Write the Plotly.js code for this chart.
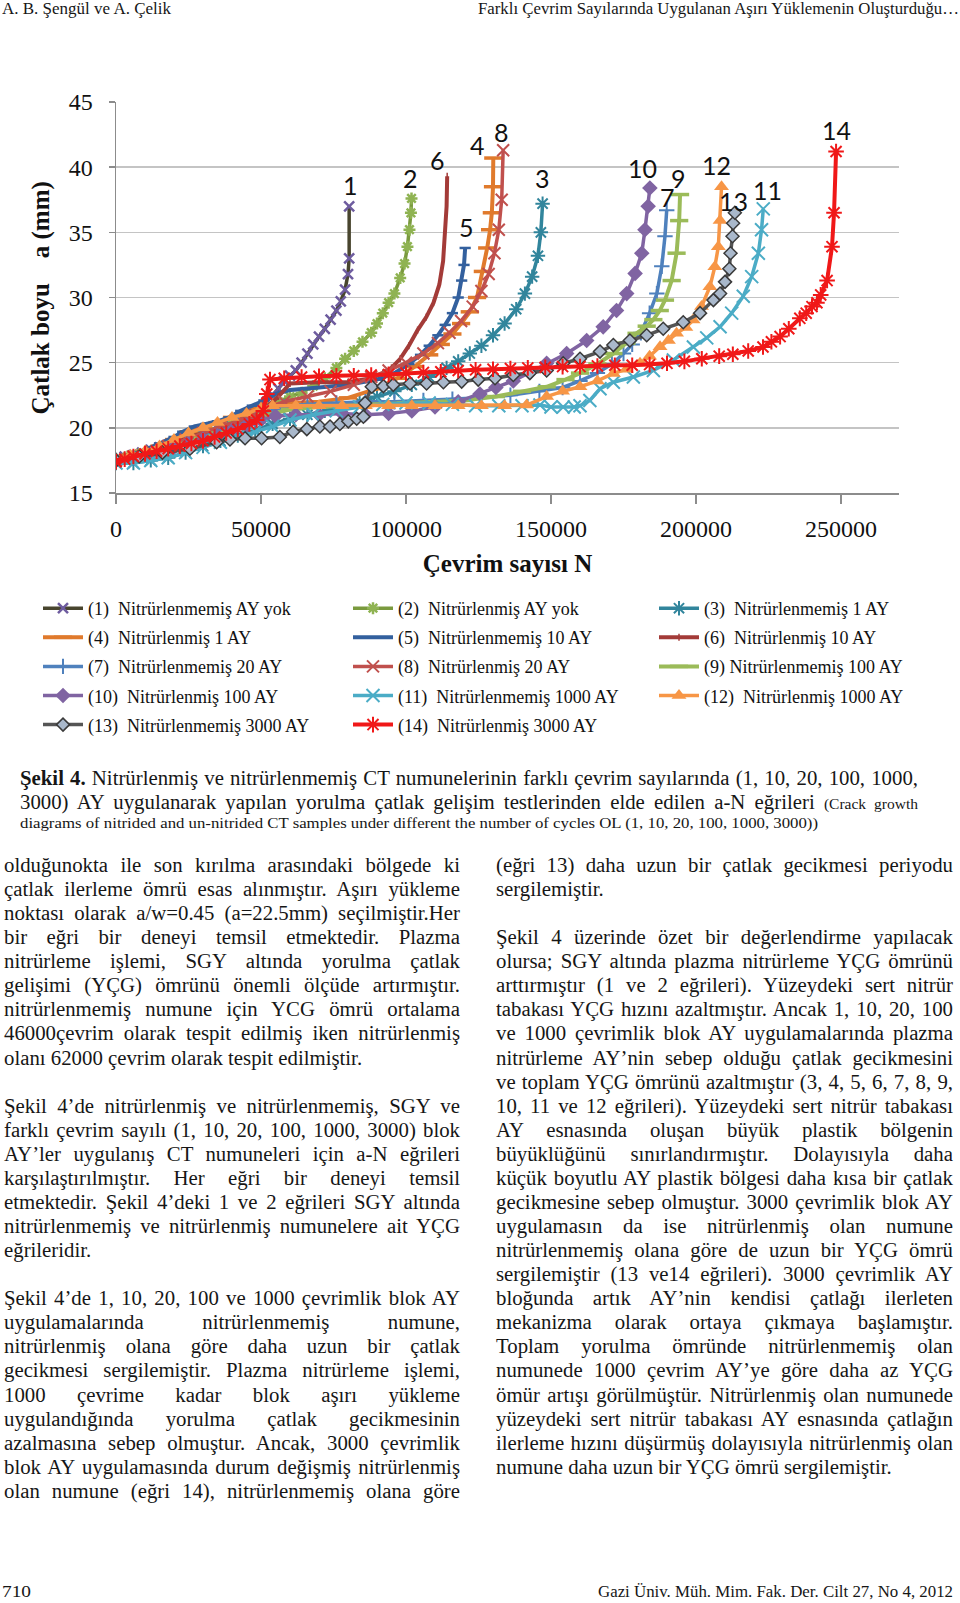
<!DOCTYPE html>
<html><head><meta charset="utf-8">
<script src="https://cdn.plot.ly/plotly-3.0.1.min.js"></script>
<style>
html,body{margin:0;padding:0;background:#fff;}
body{width:960px;height:1603px;position:relative;overflow:hidden;font-family:"Liberation Serif","Times New Roman",serif;color:#161616;}
.ln{position:absolute;white-space:nowrap;line-height:24px;height:24px;font-size:20.8px;}
.ln span.in{display:inline-block;transform-origin:0 50%;}
#chart{position:absolute;left:0;top:40px;width:960px;height:720px;}
</style></head><body>
<div id="chart"></div>
<script>
// ---------------- DATA ----------------
const seriesNames = [
 "(1)  Nitrürlenmemiş AY yok","(2)  Nitrürlenmiş AY yok","(3)  Nitrürlenmemiş 1 AY",
 "(4)  Nitrürlenmiş 1 AY","(5)  Nitrürlenmemiş 10 AY","(6)  Nitrürlenmiş 10 AY",
 "(7)  Nitrürlenmemiş 20 AY","(8)  Nitrürlenmiş 20 AY","(9) Nitrürlenmemiş 100 AY",
 "(10)  Nitrürlenmiş 100 AY","(11)  Nitrürlenmemiş 1000 AY","(12)  Nitrürlenmiş 1000 AY",
 "(13)  Nitrürlenmemiş 3000 AY","(14)  Nitrürlenmiş 3000 AY"];
const curveLabels = ["1","2","3","4","5","6","7","8","9","10","11","12","13","14"];
const labelN = [80700,101400,147200,124800,120700,111000,190000,133100,194100,181700,224500,207200,213100,248300];
const labelA = [38.6,39.2,39.2,41.7,35.4,40.55,37.7,42.7,39.2,39.9,38.25,40.2,37.4,42.85];
const xTickVals = [0,50000,100000,150000,200000,250000];
const xTickText = ["0","50000","100000","150000","200000","250000"];
const yTickVals = [15,20,25,30,35,40,45];

const n1 = [0,3000,6000,9000,12000,15000,18000,21000,24000,27000,30000,33000,36000,39000,42000,45000,48000,50000,52000,54000,56000,58000,60000,62000,64000,66000,68000,70000,72000,74000,76000,77500,79000,80000,80400,80400];
const a1 = [17.6,17.8,17.9,18.1,18.3,18.5,18.7,18.9,19.2,19.4,19.6,19.8,20.0,20.3,20.5,20.8,21.1,21.5,22.0,22.5,23.0,23.6,24.0,24.4,25.0,25.7,26.4,27.0,27.6,28.3,29.0,29.7,30.6,31.8,33.0,37.0];
const n2 = [0,4000,8000,12000,16000,20000,24000,28000,32000,36000,40000,44000,48000,52000,56000,60000,64000,68000,72000,76000,79000,82000,85000,88000,90000,92000,94000,96000,98000,99500,100500,101200,101700,101900];
const a2 = [17.6,17.8,18.0,18.2,18.5,18.8,19.1,19.4,19.7,20.0,20.3,20.6,21.0,21.5,22.0,22.4,22.7,23.2,23.8,24.6,25.3,25.9,26.6,27.3,28.0,28.8,29.6,30.3,31.5,32.6,33.9,35.2,36.5,37.6];
const n3 = [0,6000,12000,18000,24000,30000,36000,42000,48000,54000,60000,66000,72000,78000,84000,90000,96000,102000,108000,114000,118000,122000,126000,130000,134000,138000,141000,143500,145500,146500,147100];
const a3 = [17.3,17.3,17.5,17.7,18.1,18.6,19.0,19.4,19.8,20.3,20.7,21.0,21.3,21.6,22.0,22.4,22.8,23.3,23.9,24.6,25.1,25.7,26.3,27.1,28.0,29.1,30.3,31.6,33.2,35.0,37.2];
const n4 = [0,5000,10000,15000,20000,25000,30000,35000,40000,45000,50000,52000,60000,70000,80000,90000,97000,103000,108000,112000,116000,119000,122000,124500,126500,128000,129000,129600,130000,130100];
const a4 = [17.6,17.9,18.2,18.6,19.1,19.7,20.1,20.4,20.8,21.2,21.6,21.8,21.9,22.0,22.3,23.0,23.8,24.7,25.6,26.4,27.2,28.0,28.9,30.0,32.0,33.8,35.2,36.5,38.5,40.7];
const n5 = [0,5000,10000,15000,20000,23000,27000,31000,35000,39000,43000,47000,51000,55000,60000,70000,80000,90000,96000,101000,105000,108000,111000,113500,116000,118000,119200,120000,120400];
const a5 = [17.6,17.9,18.3,18.8,19.3,19.7,20.1,20.3,20.5,20.8,21.3,21.7,22.1,22.6,22.9,23.1,23.3,23.7,24.2,24.9,25.6,26.3,27.1,27.9,28.8,30.0,31.3,32.5,33.8];
const n6 = [0,6000,12000,18000,24000,30000,36000,42000,48000,52000,56000,60000,70000,80000,88000,92000,95000,98000,101000,104000,107000,109500,111500,112800,113500,114000,114200];
const a6 = [17.6,17.9,18.3,18.7,19.2,19.6,20.0,20.5,21.0,21.6,22.4,23.4,23.5,23.5,23.8,24.2,24.6,25.3,26.3,27.5,28.5,29.6,31.0,32.8,34.8,37.0,39.3];
const n7 = [0,6000,12000,18000,24000,30000,36000,42000,48000,52000,58000,66000,76000,86000,96000,106000,116000,126000,136000,146000,154000,160000,166000,171000,175000,178000,181000,184000,186500,188200,189300,189900];
const a7 = [17.5,17.7,18.0,18.4,18.8,19.3,19.8,20.2,20.7,21.2,21.6,21.8,21.9,22.0,22.0,22.1,22.2,22.3,22.5,22.8,23.1,23.6,24.2,24.9,25.7,26.4,27.3,28.8,30.3,32.4,34.7,36.7];
const n8 = [0,6000,12000,18000,24000,30000,36000,42000,48000,52000,58000,66000,74000,82000,88000,94000,100000,106000,111000,115000,119000,123000,126000,128500,130500,132000,133000,133500];
const a8 = [17.5,17.8,18.2,18.6,19.1,19.6,20.1,20.5,21.0,21.5,22.0,22.4,22.8,23.3,23.9,24.4,25.0,25.7,26.5,27.3,28.2,29.3,30.5,31.8,33.4,35.2,37.5,41.3];
const n9 = [0,6000,12000,18000,24000,30000,36000,42000,48000,52000,60000,70000,80000,90000,100000,110000,120000,131000,140000,148500,155000,160000,166000,171500,176000,179500,183000,185300,187500,189300,191600,193300,194200,194500];
const a9 = [17.5,17.7,18.0,18.4,18.8,19.2,19.6,20.0,20.5,21.0,21.4,21.6,21.7,21.8,21.9,22.0,22.1,22.4,22.8,23.15,23.7,24.2,24.9,25.7,26.5,27.25,27.8,28.3,29.0,29.8,31.3,33.4,35.9,37.9];
const n10 = [0,5000,10000,15000,20000,25000,30000,35000,40000,45000,50000,55000,62000,70000,78000,86000,94000,102000,110000,118000,125500,131000,137000,143000,148500,155400,162300,168000,172600,176100,179000,181300,182400,183500,184100];
const a10 = [17.5,17.7,17.9,18.2,18.5,18.8,19.1,19.4,19.8,20.2,20.6,20.9,21.0,21.0,21.1,21.0,21.1,21.3,21.6,22.0,22.6,23.1,23.6,24.3,24.95,25.7,26.7,27.75,29.0,30.3,31.85,33.4,35.2,37.0,38.4];
const n11 = [0,6000,12000,18000,24000,30000,36000,42000,48000,54000,60000,68000,76000,84000,92000,100000,108000,116000,124000,132000,140000,146200,150000,154200,158000,160000,163400,166900,171500,178400,185300,192200,199100,203700,208300,212300,216300,219200,221500,222600,223200];
const a11 = [17.3,17.3,17.5,17.7,18.1,18.5,18.9,19.3,19.7,20.1,20.6,21.0,21.3,21.6,21.8,21.9,21.9,21.8,21.7,21.7,21.7,21.75,21.6,21.6,21.6,21.7,22.1,23.0,23.5,23.9,24.4,25.2,26.2,26.9,27.75,28.8,30.1,31.6,33.4,35.2,36.8];
const n12 = [0,5000,10000,15000,20000,25000,30000,35000,40000,45000,50000,54000,62000,70000,78000,86000,94000,102000,110000,118000,126000,134000,141600,148500,154000,160000,166000,171500,176000,180700,184000,187600,190500,193300,196500,199000,201900,204800,206500,207700,208300,208800];
const a12 = [17.6,17.9,18.2,18.6,19.1,19.6,20.0,20.4,20.8,21.1,21.5,21.7,21.7,21.7,21.7,21.7,21.7,21.7,21.7,21.7,21.7,21.7,21.75,22.4,22.8,23.15,23.6,24.17,24.5,24.95,25.5,26.22,26.7,27.25,27.7,28.27,29.3,30.83,32.36,33.9,35.9,38.5];
const n13 = [0,8000,16000,25500,34700,39300,44500,50200,56500,61100,65800,70300,73800,77200,80100,83000,85300,85900,88200,92200,95600,101400,107100,112900,119200,124900,130700,137000,142700,148500,154200,160000,166900,171500,177200,183000,188700,195600,201400,206000,208300,210000,211500,211900,212600,212800,213400];
const a13 = [17.5,17.8,18.1,18.4,18.9,19.1,19.2,19.2,19.3,19.7,19.9,20.1,20.1,20.3,20.5,20.7,20.85,21.9,23.15,23.2,23.3,23.4,23.4,23.5,23.55,23.7,23.8,24.05,24.2,24.4,24.95,25.3,25.85,26.35,26.7,27.1,27.6,28.1,28.8,29.8,30.3,31.2,32.2,33.4,34.7,35.7,36.5];
const n14 = [0,3000,6000,10000,14000,18000,22000,26000,30000,34000,38000,42000,46000,48500,50800,52000,53100,58000,64000,70000,76000,82000,88000,94000,100000,106000,112000,118000,124000,130000,136000,142000,148000,154000,160000,166000,172000,178000,184000,190000,196000,202000,208000,212700,218000,223100,226000,229000,232000,235800,238000,240000,241700,243000,245200,246900,247600,248300];
const a14 = [17.4,17.6,17.8,18.0,18.2,18.4,18.6,18.8,19.0,19.3,19.6,19.9,20.3,20.6,21.3,22.6,23.7,23.8,23.9,23.95,24.0,24.0,24.05,24.1,24.2,24.25,24.3,24.4,24.45,24.5,24.55,24.6,24.65,24.7,24.7,24.75,24.8,24.8,24.85,24.95,25.1,25.3,25.5,25.65,25.9,26.2,26.6,27.0,27.6,28.4,28.8,29.3,29.6,30.2,31.3,33.9,36.5,41.2];

// ---------------- TEXT ----------------
const leftLines = [
 ["olduğunokta ile son kırılma arasındaki bölgede ki",1],
 ["çatlak ilerleme ömrü esas alınmıştır. Aşırı yükleme",1],
 ["noktası olarak a/w=0.45 (a=22.5mm) seçilmiştir.Her",1],
 ["bir eğri bir deneyi temsil etmektedir. Plazma",1],
 ["nitrürleme işlemi, SGY altında yorulma çatlak",1],
 ["gelişimi (YÇG) ömrünü önemli ölçüde artırmıştır.",1],
 ["nitrürlenmemiş numune için YCG ömrü ortalama",1],
 ["46000çevrim olarak tespit edilmiş iken nitrürlenmiş",1],
 ["olanı 62000 çevrim olarak tespit edilmiştir.",0],
 null,
 ["Şekil 4’de nitrürlenmiş ve nitrürlenmemiş, SGY ve",1],
 ["farklı çevrim sayılı (1, 10, 20, 100, 1000, 3000) blok",1],
 ["AY’ler uygulanış CT numuneleri için a-N eğrileri",1],
 ["karşılaştırılmıştır. Her eğri bir deneyi temsil",1],
 ["etmektedir. Şekil 4’deki 1 ve 2 eğrileri SGY altında",1],
 ["nitrürlenmemiş ve nitrürlenmiş numunelere ait YÇG",1],
 ["eğrileridir.",0],
 null,
 ["Şekil 4’de 1, 10, 20, 100 ve 1000 çevrimlik blok AY",1],
 ["uygulamalarında nitrürlenmemiş numune,",1],
 ["nitrürlenmiş olana göre daha uzun bir çatlak",1],
 ["gecikmesi sergilemiştir. Plazma nitrürleme işlemi,",1],
 ["1000 çevrime kadar blok aşırı yükleme",1],
 ["uygulandığında yorulma çatlak gecikmesinin",1],
 ["azalmasına sebep olmuştur. Ancak, 3000 çevrimlik",1],
 ["blok AY uygulamasında durum değişmiş nitrürlenmiş",1],
 ["olan numune (eğri 14), nitrürlenmemiş olana göre",1]
];
const rightLines = [
 ["(eğri 13) daha uzun bir çatlak gecikmesi periyodu",1],
 ["sergilemiştir.",0],
 null,
 ["Şekil 4 üzerinde özet bir değerlendirme yapılacak",1],
 ["olursa; SGY altında plazma nitrürleme YÇG ömrünü",1],
 ["arttırmıştır (1 ve 2 eğrileri). Yüzeydeki sert nitrür",1],
 ["tabakası YÇG hızını azaltmıştır. Ancak 1, 10, 20, 100",1],
 ["ve 1000 çevrimlik blok AY uygulamalarında plazma",1],
 ["nitrürleme AY’nin sebep olduğu çatlak gecikmesini",1],
 ["ve toplam YÇG ömrünü azaltmıştır (3, 4, 5, 6, 7, 8, 9,",1],
 ["10, 11 ve 12 eğrileri). Yüzeydeki sert nitrür tabakası",1],
 ["AY esnasında oluşan büyük plastik bölgenin",1],
 ["büyüklüğünü sınırlandırmıştır. Dolayısıyla daha",1],
 ["küçük boyutlu AY plastik bölgesi daha kısa bir çatlak",1],
 ["gecikmesine sebep olmuştur. 3000 çevrimlik blok AY",1],
 ["uygulamasın da ise nitrürlenmiş olan numune",1],
 ["nitrürlenmemiş olana göre de uzun bir YÇG ömrü",1],
 ["sergilemiştir (13 ve14 eğrileri). 3000 çevrimlik AY",1],
 ["bloğunda artık AY’nin kendisi çatlağı ilerleten",1],
 ["mekanizma olarak ortaya çıkmaya başlamıştır.",1],
 ["Toplam yorulma ömründe nitrürlenmemiş olan",1],
 ["numunede 1000 çevrim AY’ye göre daha az YÇG",1],
 ["ömür artışı görülmüştür. Nitrürlenmiş olan numunede",1],
 ["yüzeydeki sert nitrür tabakası AY esnasında çatlağın",1],
 ["ilerleme hızını düşürmüş dolayısıyla nitrürlenmiş olan",1],
 ["numune daha uzun bir YÇG ömrü sergilemiştir.",0]
];

function place(html, x, yc, w, mode, size, lh) {
  const d = document.createElement('div');
  d.className = 'ln';
  const L = lh || 24;
  d.style.lineHeight = L + 'px'; d.style.height = L + 'px';
  d.style.top = (yc - L/2) + 'px';
  if (size) d.style.fontSize = size + 'px';
  const s = document.createElement('span'); s.className = 'in'; s.innerHTML = html;
  d.appendChild(s); document.body.appendChild(d);
  const nat = s.getBoundingClientRect().width;
  if (mode === 'right') { d.style.left = (x - w) + 'px'; }
  else d.style.left = x + 'px';
  if (mode === 'justify') {
    const n = (s.textContent.match(/ /g) || []).length;
    if (nat < w && n > 0) s.style.wordSpacing = ((w - nat) / n) + 'px';
    else if (nat > w) s.style.transform = 'scaleX(' + (w / nat) + ')';
  } else if (mode === 'fit' || mode === 'right') {
    s.style.transform = 'scaleX(' + (w / nat) + ')';
  } else if (nat > w) {
    s.style.transform = 'scaleX(' + (w / nat) + ')';
  }
}

// header / footer
place("A. B. Şengül ve A. Çelik", 2, 9, 169, 'fit', 17, 18);
place("Farklı Çevrim Sayılarında Uygulanan Aşırı Yüklemenin Oluşturduğu…", 959, 9, 481, 'right', 17, 18);
place("710", 2, 1592, 29, 'fit', 17, 18);
place("Gazi Üniv. Müh. Mim. Fak. Der. Cilt 27, No 4, 2012", 953, 1592, 355, 'right', 17, 18);

// caption
place("<b>Şekil 4.</b> Nitrürlenmiş ve nitrürlenmemiş CT numunelerinin farklı çevrim sayılarında (1, 10, 20, 100, 1000,", 20, 778, 898, 'justify', 20.8);
place("3000) AY uygulanarak yapılan yorulma çatlak gelişim testlerinden elde edilen a-N eğrileri <span style='font-size:15.5px'>(Crack growth</span>", 20, 802, 898, 'justify', 20.8);
place("diagrams of nitrided and un-nitrided CT samples under different the number of cycles OL (1, 10, 20, 100, 1000, 3000))", 20, 823, 798, 'fit', 15.5, 20);

// body
const lineStep = 24.07;
leftLines.forEach((l, i) => { if (l) place(l[0], 4, 865 + i * lineStep, 456, l[1] ? 'justify' : 'left', 20.8); });
rightLines.forEach((l, i) => { if (l) place(l[0], 496, 865 + i * lineStep, 457, l[1] ? 'justify' : 'left', 20.8); });

// ---------------- CHART ----------------
const serif = "Liberation Serif, Times New Roman, serif";
function tr(x, y, k, leg, lc, lw, sym, msz, mc, mlc, mlw) {
  return {x: x, y: y, name: seriesNames[k], type: 'scatter', mode: 'lines+markers',
    legend: leg, legendgroup: 'g' + k, showlegend: true,
    line: {color: lc, width: lw},
    marker: {symbol: sym, size: msz, color: mc, line: {color: mlc, width: mlw}},
    hoverinfo: 'skip'};
}
const data = [
  tr(n1, a1, 0, 'legend', '#48452e', 3.5, 'x-thin-open', 10, '#6e5c9f', '#6e5c9f', 2.5),
  tr(n2, a2, 1, 'legend2', '#7a9a3e', 3.5, 'asterisk-open', 10, '#8fb352', '#8fb352', 2.5),
  tr(n3, a3, 2, 'legend3', '#31859c', 3.5, 'asterisk-open', 12, '#31859c', '#31859c', 2),
  tr(n4, a4, 3, 'legend', '#e07a2c', 4, 'line-ew-open', 13, '#e07a2c', '#e07a2c', 3.5),
  tr(n5, a5, 4, 'legend2', '#33609e', 4, 'line-ew-open', 8, '#33609e', '#33609e', 2.5),
  tr(n6, a6, 5, 'legend3', '#a33b38', 4, 'line-ns-open', 5, '#a33b38', '#a33b38', 1.5),
  tr(n7, a7, 6, 'legend', '#4f81bd', 3.5, 'cross-thin-open', 11, '#4f81bd', '#4f81bd', 2),
  tr(n8, a8, 7, 'legend2', '#c0504d', 3.5, 'x-thin-open', 12, '#c0504d', '#c0504d', 2),
  tr(n9, a9, 8, 'legend3', '#9bbb59', 4, 'line-ew-open', 13, '#9bbb59', '#9bbb59', 3.5),
  tr(n10, a10, 9, 'legend', '#8064a2', 3.5, 'diamond', 12, '#8064a2', '#8064a2', 0),
  tr(n11, a11, 10, 'legend2', '#4bacc6', 3.5, 'x-thin-open', 13, '#4bacc6', '#4bacc6', 2),
  tr(n12, a12, 11, 'legend3', '#f79646', 3.5, 'triangle-up', 13, '#f79646', '#f79646', 0),
  tr(n13, a13, 12, 'legend', '#555555', 3.5, 'diamond', 10, '#a9b8cb', '#3a3a3a', 1.5),
  tr(n14, a14, 13, 'legend2', '#f01818', 4, 'asterisk-open', 13, '#f01818', '#f01818', 2)
];

const annotations = curveLabels.map((t, i) => ({
  x: labelN[i], y: labelA[i], xref: 'x', yref: 'y', text: t, showarrow: false,
  font: {family: 'Lato, Carlito, sans-serif', size: 25, color: '#111'}
}));
// y-axis title (placed as rotated annotation beside the axis)
annotations.push({
  x: -0.0958, y: 0.5, xref: 'paper', yref: 'paper', xanchor: 'center', yanchor: 'middle',
  text: '<b>Çatlak boyu\u00a0\u00a0\u00a0 a (mm)</b>', textangle: -90, showarrow: false,
  font: {family: serif, size: 25, color: '#111'}
});

const H = 720;
function legendCfg(xpx) {
  return {x: xpx / 960, xref: 'container', y: 1 - 550 / H, yref: 'container',
    xanchor: 'left', yanchor: 'top', orientation: 'v', tracegroupgap: 2.7,
    itemwidth: 40, bgcolor: 'rgba(0,0,0,0)', borderwidth: 0,
    font: {family: serif, size: 18, color: '#111'}};
}

const layout = {
  width: 960, height: H,
  margin: {l: 116, r: 61, t: 62, b: H - 62 - 391, pad: 0, autoexpand: false},
  paper_bgcolor: '#fff', plot_bgcolor: '#fff',
  showlegend: true,
  xaxis: {range: [0, 270000], tickvals: xTickVals, ticktext: xTickText,
    showgrid: false, zeroline: false, showline: true, linecolor: '#8c8c8c', linewidth: 1.5,
    ticks: 'outside', ticklen: 9, tickcolor: '#8c8c8c', tickwidth: 1.5,
    ticklabelstandoff: 5,
    tickfont: {family: serif, size: 24, color: '#111'},
    title: {text: '<b>Çevrim sayısı N</b>', font: {family: serif, size: 25, color: '#111'}, standoff: 13},
    automargin: false},
  yaxis: {range: [15, 45], tickvals: yTickVals, ticktext: yTickVals.map(String),
    showgrid: true, gridcolor: '#c4c4c4', gridwidth: 1.5, zeroline: false,
    showline: true, linecolor: '#8c8c8c', linewidth: 1.5,
    ticks: 'outside', ticklen: 6, tickcolor: '#8c8c8c', tickwidth: 1.5,
    ticklabelstandoff: 11,
    tickfont: {family: serif, size: 24, color: '#111'},
    automargin: false},
  annotations: annotations,
  legend: legendCfg(38),
  legend2: legendCfg(348),
  legend3: legendCfg(654)
};

Plotly.newPlot('chart', data, layout, {displayModeBar: false, staticPlot: true});
</script>
</body></html>
